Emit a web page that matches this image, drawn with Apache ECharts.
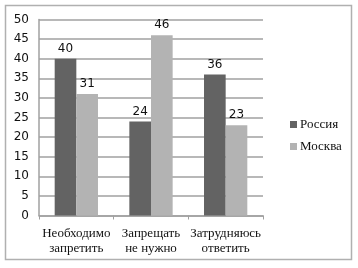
<!DOCTYPE html>
<html><head><meta charset="utf-8">
<script src="https://cdn.jsdelivr.net/npm/echarts@6/dist/echarts.min.js"></script>
<style>html,body{margin:0;padding:0;background:#fff}#c{width:358px;height:268px}</style>
</head><body><div id="c"></div>
<script>
var categories = ['Необходимо\nзапретить', 'Запрещать\nне нужно', 'Затрудняюсь\nответить'];
var russia = [40, 24, 36];
var moscow = [31, 46, 23];
var yTicks = [0, 5, 10, 15, 20, 25, 30, 35, 40, 45, 50];

var chart = echarts.init(document.getElementById('c'), null, {renderer: 'canvas'});
var labelStyle = {show: true, position: 'top', fontFamily: 'DejaVu Sans', fontSize: 12, color: '#111', distance: 4};
chart.setOption({
  animation: false,
  graphic: [{type: 'rect', shape: {x: 5.5, y: 5.5, width: 346, height: 254}, style: {fill: 'none', stroke: '#b0b0b0', lineWidth: 1.5}, z: -1}],
  grid: {left: 39, right: 95, top: 19.5, bottom: 52.5},
  legend: {
    orient: 'vertical', left: 285, top: 113, itemWidth: 7, itemHeight: 7, itemGap: 9,
    icon: 'rect',
    textStyle: {fontFamily: 'Liberation Serif', fontSize: 13, color: '#111', padding: [0, 0, 0, -2]},
    data: ['Россия', 'Москва']
  },
  xAxis: {
    type: 'category', data: categories,
    axisLine: {lineStyle: {color: '#a0a0a0', width: 1.5}},
    axisTick: {show: true, length: 4, lineStyle: {color: '#a0a0a0'}},
    axisLabel: {fontFamily: 'Liberation Serif', fontSize: 13, color: '#111', margin: 11, lineHeight: 15, interval: 0}
  },
  yAxis: {
    type: 'value', min: 0, max: 50, interval: 5,
    axisLine: {show: true, lineStyle: {color: '#a0a0a0', width: 1.5}},
    axisTick: {show: false},
    splitLine: {lineStyle: {color: '#b8b8b8', width: 2}},
    axisLabel: {fontFamily: 'DejaVu Sans', fontSize: 12, color: '#111', margin: 10,
      formatter: function(v){ return yTicks.indexOf(v) >= 0 ? String(v) : ''; }}
  },
  series: [
    {name: 'Россия', type: 'bar', data: russia, barGap: '0%', barCategoryGap: '42%',
      itemStyle: {color: '#636363'}, label: labelStyle},
    {name: 'Москва', type: 'bar', data: moscow,
      itemStyle: {color: '#b3b3b3'}, label: labelStyle}
  ]
});
</script></body></html>
